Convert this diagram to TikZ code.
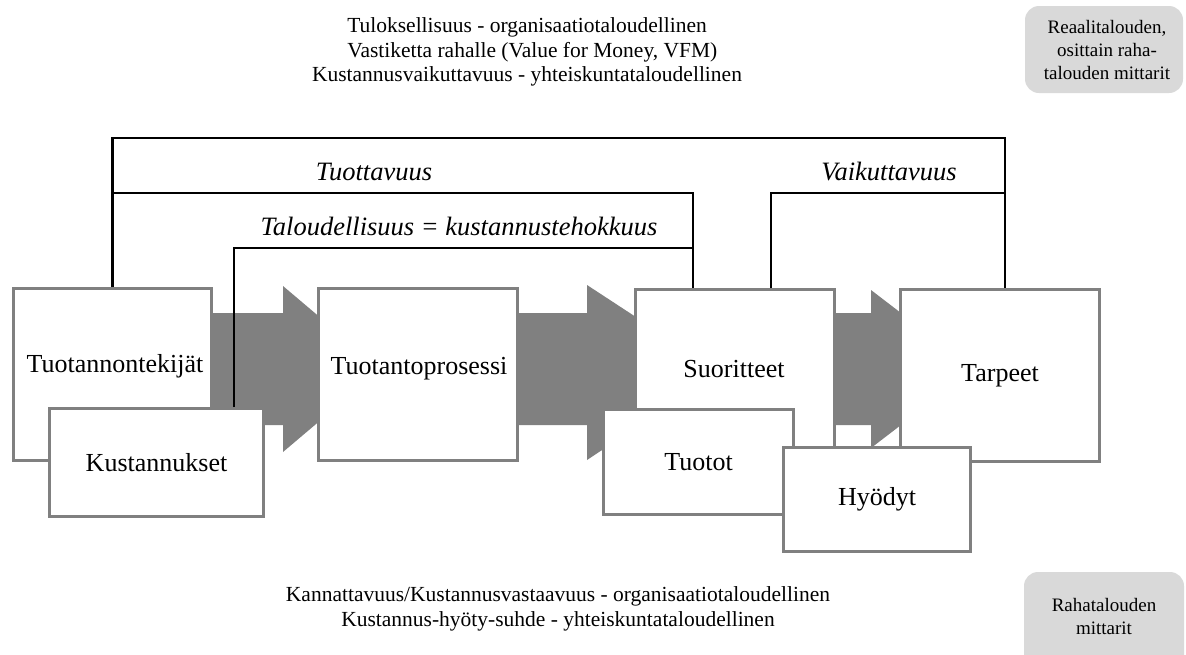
\documentclass[tikz,border=0pt]{standalone}
\usepackage{fontspec}
\setmainfont{Liberation Serif}
\definecolor{boxgray}{HTML}{808080}
\definecolor{arrowgray}{HTML}{808080}
\definecolor{notegray}{HTML}{D9D9D9}
\begin{document}
\begin{tikzpicture}[x=1pt, y=-1pt,
  box/.style={draw=boxgray, line width=3pt, fill=white, inner sep=0pt,
    font=\fontsize{26}{30}\selectfont},
  boxlabel/.style={font=\fontsize{26}{30}\selectfont},
  bracket/.style={draw=black, line width=2.7pt, line join=miter},
  blockarrow/.style={fill=arrowgray},
  note/.style={fill=notegray, rounded corners=14pt},
  notetext/.style={align=center, font=\fontsize{19}{23}\selectfont},
  caption/.style={align=center, font=\fontsize{21.5}{24.5}\selectfont},
  measure/.style={font=\itshape\fontsize{26.5}{30}\selectfont}]
\useasboundingbox (0,0) rectangle (1186,654);

% wide grey flow arrows between the stages
\path[blockarrow] (150,313) -- (283,313) -- (283,286) -- (381,369)
  -- (283,452) -- (283,425) -- (150,425) -- cycle;
\path[blockarrow] (450,313) -- (587,313) -- (587,285) -- (720,372)
  -- (587,460) -- (587,425) -- (450,425) -- cycle;
\path[blockarrow] (800,313) -- (871,313) -- (871,290) -- (974,369)
  -- (871,448) -- (871,425) -- (800,425) -- cycle;

% stage boxes
\node[box, minimum width=198pt, minimum height=172pt] (A) at (112.5,374.5) {};
\node[box, minimum width=214pt, minimum height=108pt] (B) at (156.5,462.5) {Kustannukset};
\node[box, minimum width=199pt, minimum height=172pt] (C) at (418,374.5) {};
\node[box, minimum width=199pt, minimum height=172pt] (D) at (735,375.5) {};
\node[box, minimum width=190pt, minimum height=105pt] (E) at (698.5,462) {Tuotot};
\node[box, minimum width=199pt, minimum height=172pt] (G) at (1000,375.5) {Tarpeet};
\node[box, minimum width=187pt, minimum height=104pt] (F) at (877,499.5) {Hyödyt};
\node[boxlabel] (Alab) at (115,366) {Tuotannontekijät};
\node[boxlabel] (Clab) at (419,369) {Tuotantoprosessi};
\node[boxlabel] (Dlab) at (734,369) {Suoritteet};

% levels of the measure brackets
\coordinate (lvlTop) at (0,138);
\coordinate (lvlMid) at (0,193);
\coordinate (lvlLow) at (0,248);

% measure brackets
\draw[bracket] (A.north) -- (A.north |- lvlTop) -| ([xshift=5pt]G.north);
\draw[bracket] (A.north |- lvlMid) -| ([xshift=-42pt]D.north);
\draw[bracket] ([xshift=36pt]D.north) |- ([xshift=5pt]G.north |- lvlMid);
\draw[bracket] ([xshift=77.5pt]B.north) |- ([xshift=-42pt]D.north |- lvlLow);

% bracket labels
\node[measure] (tuott) at (374,172) {Tuottavuus};
\node[measure] (vaik) at (889,172) {Vaikuttavuus};
\node[measure] (talo) at (459,226) {Taloudellisuus = kustannustehokkuus};

% captions above and below
\node[caption] (capTop) at (527,52) {Tuloksellisuus - organisaatiotaloudellinen\\
  \ \ Vastiketta rahalle (Value for Money, VFM)\\
  Kustannusvaikuttavuus - yhteiskuntataloudellinen};
\node[caption] (capBot) at (558,609) {Kannattavuus/Kustannusvastaavuus - organisaatiotaloudellinen\\
  Kustannus-hyöty-suhde - yhteiskuntataloudellinen};

% side notes
\path[note] (1025,6) rectangle (1183,93);
\node[notetext] (noteTop) at (1107,50) {Reaalitalouden,\\osittain raha-\\talouden mittarit};
\path[note] (1024,572) rectangle (1184,672);
\node[notetext] (noteBot) at (1104,616) {Rahatalouden\\mittarit};
\end{tikzpicture}
\end{document}
